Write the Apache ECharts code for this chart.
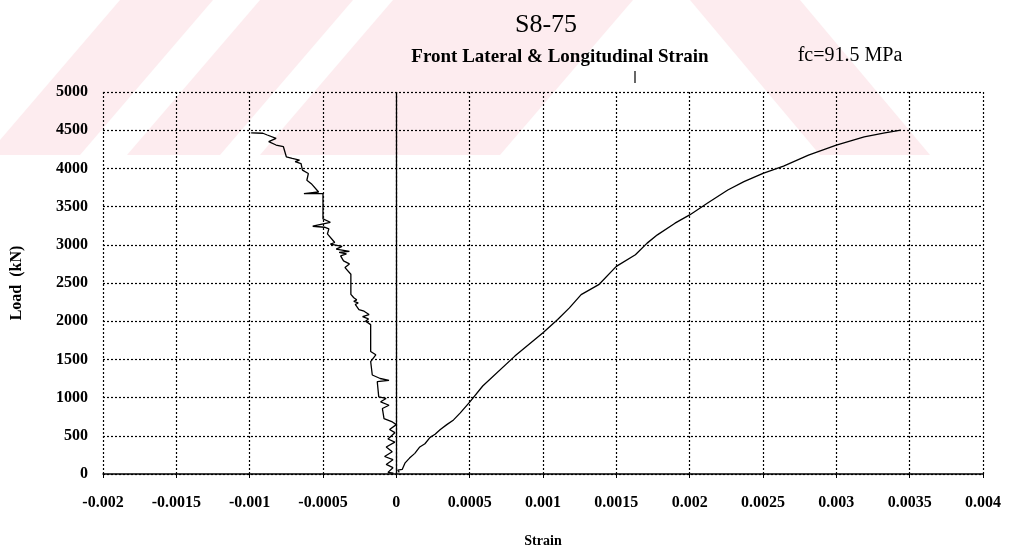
<!DOCTYPE html>
<html>
<head>
<meta charset="utf-8">
<script src="https://cdn.jsdelivr.net/npm/echarts@6/dist/echarts.min.js"></script>
<style>html,body{margin:0;padding:0;background:#fff}#c{width:1013px;height:551px}</style>
</head>
<body>
<div id="c"></div>
<script>
// ---- data ----
var xTicks = [-0.002, -0.0015, -0.001, -0.0005, 0, 0.0005, 0.001, 0.0015, 0.002, 0.0025, 0.003, 0.0035, 0.004];
var yTicks = [0, 500, 1000, 1500, 2000, 2500, 3000, 3500, 4000, 4500, 5000];

// Front lateral strain (negative side)
var latStrain = [-0.00002, -0.000057, -0.000023, -0.000069, -0.000023, -0.00008, -0.000028, -0.000069, -0.00001, -0.000057, -0.00001, -0.000046, 0.0,
  -0.000027, -0.000084, -0.000095, -0.00005, -0.000107, -0.00007, -0.00012, -0.00013, -0.00005, -0.00011, -0.000164, -0.000175, -0.00014, -0.000175,
  -0.000175, -0.00021, -0.00019, -0.00023, -0.000186, -0.00022, -0.000255, -0.00028, -0.00026, -0.00029, -0.00027, -0.00029, -0.00031, -0.00031, -0.00035, -0.00032, -0.00036,
  -0.00038, -0.00034, -0.00039, -0.00032, -0.00041, -0.00037, -0.00045, -0.00042, -0.00047, -0.00046, -0.00049, -0.00057, -0.00045, -0.0005, -0.0005, -0.00063, -0.00053, -0.00054,
  -0.00058, -0.00061, -0.0006, -0.00064, -0.00065, -0.00069, -0.00066, -0.00071, -0.00075, -0.00077, -0.00082, -0.00087, -0.00082, -0.00088, -0.00091, -0.00099];
var latLoad = [10, 21, 83, 125, 187, 229, 292, 354, 417, 458, 541, 583, 646,
  681, 725, 857, 900, 945, 989, 1010, 1208, 1225, 1250, 1296, 1472, 1560, 1604,
  1955, 1999, 2030, 2060, 2087, 2131, 2153, 2219, 2240, 2260, 2280, 2307, 2351, 2614, 2702, 2750, 2790,
  2856, 2880, 2900, 2913, 2944, 2980, 3010, 3030, 3142, 3208, 3230, 3243, 3295, 3339, 3669, 3669, 3691, 3713,
  3800, 3845, 3933, 3977, 4064, 4090, 4108, 4130, 4152, 4284, 4306, 4350, 4394, 4437, 4460, 4465];

// Longitudinal strain (positive side)
var lonStrain = [0.00002, 0.00001, 0.00004, 0.00003, 0.00006, 0.00009, 0.000126, 0.00016, 0.000195, 0.00023, 0.000264, 0.0003, 0.000344, 0.00039, 0.000436,
  0.0005, 0.000589, 0.000808, 0.001, 0.0011, 0.00118, 0.00126, 0.00138, 0.0015, 0.00163, 0.00171, 0.00178, 0.0019, 0.002, 0.00212, 0.00226, 0.00237,
  0.0025, 0.00264, 0.00281, 0.003, 0.00319, 0.00333, 0.00344];
var lonLoad = [20, 50, 60, 83, 146, 208, 270, 354, 396, 480, 520, 583, 646, 708, 800,
  940, 1152, 1543, 1848, 2022, 2174, 2348, 2478, 2717, 2870, 3022, 3130, 3283, 3391, 3543, 3717, 3826,
  3935, 4030, 4174, 4304, 4413, 4465, 4500];

function pairs(xs, ys) { return xs.map(function (x, i) { return [x, ys[i]]; }); }

var FONT = 'Liberation Serif';
var chart = echarts.init(document.getElementById('c'), null, { renderer: 'canvas' });

var pink = '#fdecef';
chart.setOption({
  backgroundColor: '#fff',
  animation: false,
  title: [
    { text: 'S8-75', left: 541, top: 7, textAlign: 'center',
      textStyle: { fontFamily: FONT, fontSize: 26, fontWeight: 'normal', color: '#000' } },
    { text: 'Front Lateral & Longitudinal Strain', left: 555, top: 43, textAlign: 'center',
      textStyle: { fontFamily: FONT, fontSize: 19, fontWeight: 'bold', color: '#000' } },
    { text: 'fc=91.5 MPa', left: 845, top: 41, textAlign: 'center',
      textStyle: { fontFamily: FONT, fontSize: 20, fontWeight: 'normal', color: '#000' } }
  ],
  graphic: [
    { type: 'polygon', z: -10, silent: true, shape: { points: [[120, 0], [213, 0], [80, 155], [0, 155], [0, 140]] }, style: { fill: pink } },
    { type: 'polygon', z: -10, silent: true, shape: { points: [[260, 0], [353, 0], [220, 155], [127, 155]] }, style: { fill: pink } },
    { type: 'polygon', z: -10, silent: true, shape: { points: [[393, 0], [633, 0], [500, 155], [260, 155]] }, style: { fill: pink } },
    { type: 'polygon', z: -10, silent: true, shape: { points: [[690, 0], [800, 0], [930, 155], [820, 155]] }, style: { fill: pink } },
    { type: 'line', z: 10, silent: true, shape: { x1: 635, y1: 71, x2: 635, y2: 83 }, style: { stroke: '#000', lineWidth: 1.2 } }
  ],
  grid: { left: 103, right: 30, top: 92, bottom: 77, containLabel: false, outerBoundsMode: 'none' },
  xAxis: {
    type: 'value', min: -0.002, max: 0.004, interval: 0.0005,
    name: 'Strain', nameLocation: 'middle', nameGap: 60,
    nameTextStyle: { fontFamily: FONT, fontSize: 14, fontWeight: 'bold', color: '#000' },
    axisLine: { show: true, onZero: false, lineStyle: { color: '#000', width: 1.5 } },
    axisTick: { show: true, length: 4, lineStyle: { color: '#000' } },
    axisLabel: { margin: 21, fontFamily: FONT, fontSize: 16, fontWeight: 'bold', color: '#000',
      formatter: function (v) { var r = Math.round(v * 10000) / 10000; return String(r); } },
    splitLine: { show: true, lineStyle: { color: '#000', type: [2, 2], width: 1.2 } }
  },
  yAxis: {
    type: 'value', min: 0, max: 5000, interval: 500,
    name: 'Load  (kN)', nameLocation: 'middle', nameGap: 78, nameRotate: 90,
    nameTextStyle: { fontFamily: FONT, fontSize: 16, fontWeight: 'bold', color: '#000' },
    axisLine: { show: false, onZero: false },
    axisTick: { show: false },
    axisLabel: { margin: 15, fontFamily: FONT, fontSize: 16, fontWeight: 'bold', color: '#000',
      formatter: function (v) { return String(v); } },
    splitLine: { show: true, lineStyle: { color: '#000', type: [2, 2], width: 1.2 } }
  },
  series: [
    {
      name: 'Lateral', type: 'line', data: pairs(latStrain, latLoad), showSymbol: false, symbol: 'none',
      lineStyle: { color: '#000', width: 1.3 }, z: 5,
      markLine: { silent: true, symbol: 'none', label: { show: false },
        lineStyle: { color: '#000', type: 'solid', width: 1.3 },
        data: [{ xAxis: 0 }] }
    },
    {
      name: 'Longitudinal', type: 'line', data: pairs(lonStrain, lonLoad), showSymbol: false, symbol: 'none',
      lineStyle: { color: '#000', width: 1.3 }, z: 5
    }
  ]
});
</script>
</body>
</html>
